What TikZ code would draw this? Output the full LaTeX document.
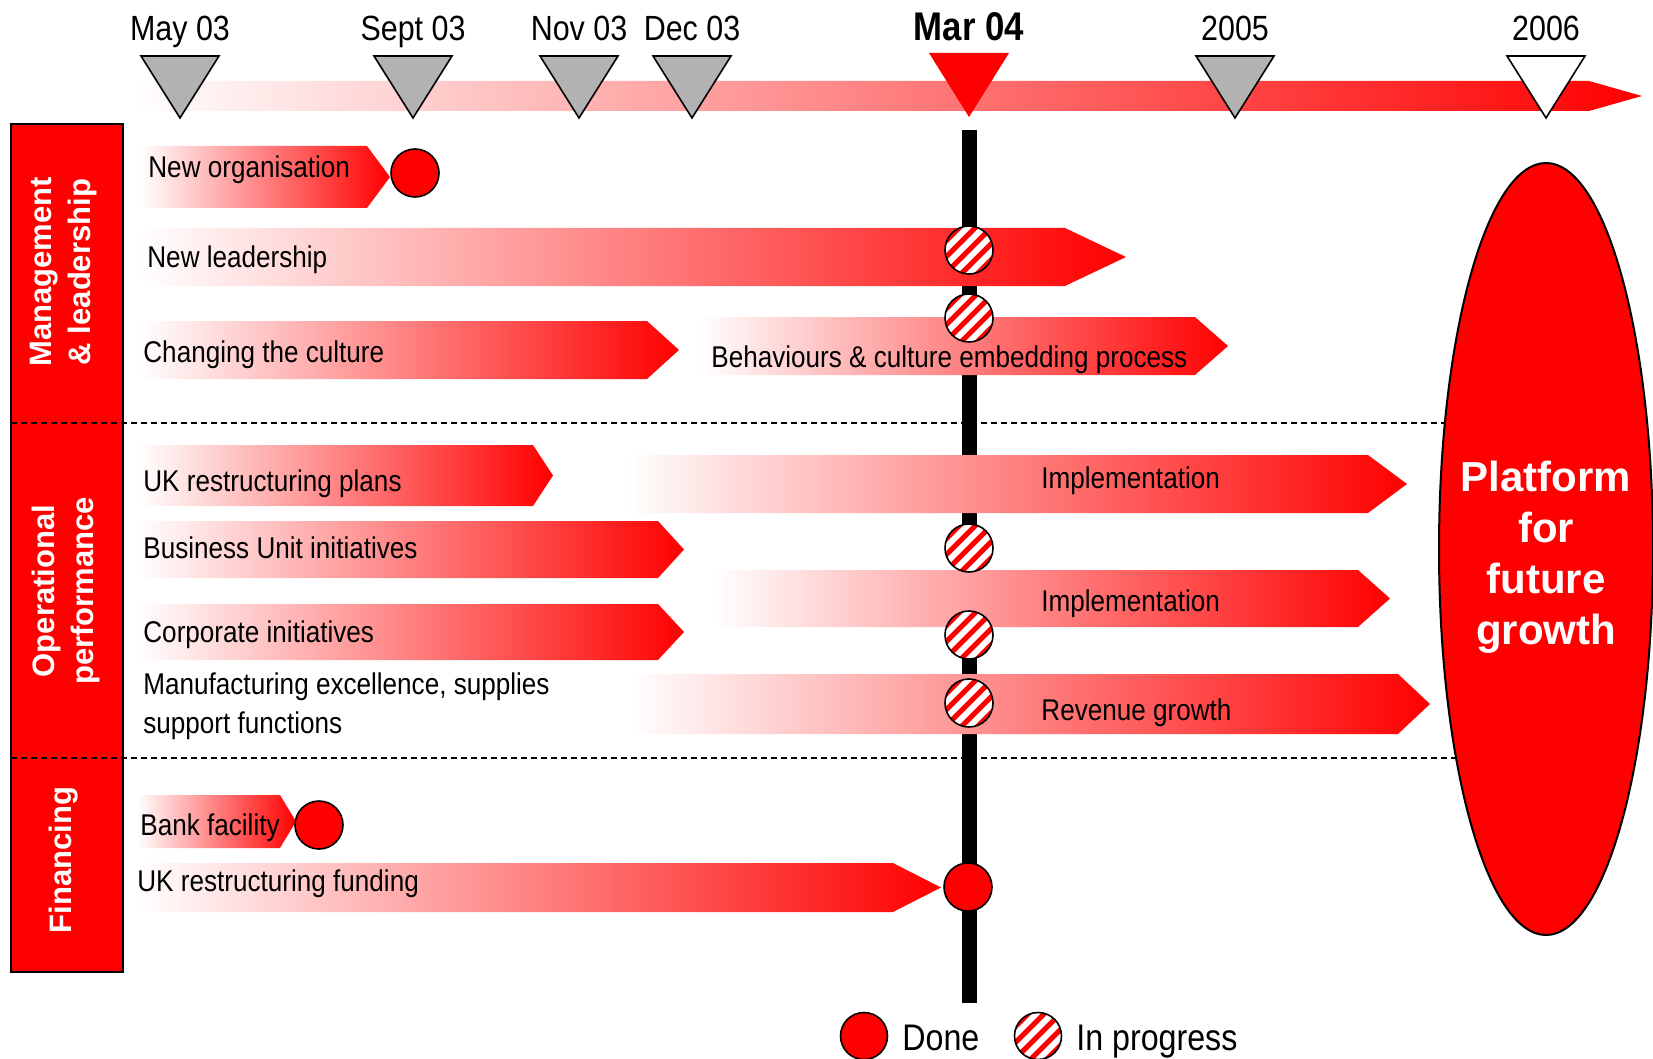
\documentclass[tikz,border=0pt]{standalone}
\usepackage{fontspec}
\setmainfont{Liberation Sans}[FakeStretch=0.87]
\newfontfamily\catfont{Liberation Sans}
\definecolor{tgray}{HTML}{B2B2B2}
\newcommand\barr[5]{\shade[left color=white,right color=red] (#1,#2) -- (#4,#2) -- (#5,{(#2+#3)/2}) -- (#4,#3) -- (#1,#3) -- cycle;}
\newcommand\mtri[2]{\filldraw[fill=#1,draw=black,line width=0.8pt,line join=miter] ({#2-39},56) -- ({#2+39},56) -- (#2,118) -- cycle;}
\begin{document}
\begin{tikzpicture}[x=0.5pt,y=-0.5pt,
 txt/.style={anchor=base west,inner sep=0pt,font=\fontsize{15}{18}\selectfont},
 tl/.style={anchor=base,inner sep=0pt,font=\fontsize{17.5}{20}\selectfont},
 cat/.style={rotate=90,align=center,text=white,inner sep=0pt,font=\catfont\bfseries\fontsize{15.5}{19.5}\selectfont},
 done/.style={circle,draw=black,fill=red,line width=0.8pt,minimum size=24pt,inner sep=0pt},
 prog/.style={circle,draw=black,fill=white,line width=0.8pt,minimum size=24pt,inner sep=0pt,
   path picture={\foreach \k in {-3,...,3}{\draw[red,line width=2.6pt] ([shift={(\k*16-30,30)}]path picture bounding box.center) -- ([shift={(\k*16+30,-30)}]path picture bounding box.center);}}},
 sep/.style={line width=0.7pt,dash pattern=on 3pt off 2pt},
 leg/.style={anchor=base west,inner sep=0pt,font=\fontsize{18.5}{22}\selectfont}
]
\useasboundingbox (0,0) rectangle (1653,1059);

% timeline band
\barr{133}{81}{111}{1589}{1642}
\mtri{tgray}{180}
\mtri{tgray}{413}
\mtri{tgray}{579}
\mtri{tgray}{692}
\mtri{tgray}{1235}
\mtri{white}{1546}
\fill[red] (929,53) -- (1009,53) -- (969,117) -- cycle;

\node[tl] (may) at (180,41) {May 03};
\node[tl] (sep) at (413,41) {Sept 03};
\node[tl] (nov) at (579,41) {Nov 03};
\node[tl] (dec) at (692,41) {Dec 03};
\node[tl,font=\bfseries\fontsize{20}{22}\selectfont] (mar) at (969,41) {Mar 04};
\node[tl] (y05) at (1235,41) {2005};
\node[tl] (y06) at (1546,41) {2006};

% Mar 04 line
\draw[line width=7.5pt] (969,130) -- (969,1003);

% arrows
\barr{140}{146}{208}{367}{390}
\barr{140}{228}{286}{1065}{1126}
\barr{140}{321}{379}{647}{679}
\barr{700}{317}{375}{1195}{1228}
\barr{138}{445}{506}{533}{553}
\barr{625}{455}{513}{1368}{1407}
\barr{138}{521}{578}{658}{684}
\barr{714}{570}{627}{1358}{1390}
\barr{138}{604}{660}{658}{684}
\barr{630}{674}{734}{1398}{1430}
\barr{137}{795}{848}{280}{296}
\barr{137}{863}{912}{893}{941}

% texts
\node[txt] (t1) at (148,178) {New organisation};
\node[txt] (t2) at (147,267) {New leadership};
\node[txt] (t3) at (143,362) {Changing the culture};
\node[txt] (t4) at (711,367) {Behaviours \& culture embedding process};
\node[txt] (t5) at (143,491) {UK restructuring plans};
\node[txt] (t6) at (1041,488) {Implementation};
\node[txt] (t7) at (143,558) {Business Unit initiatives};
\node[txt] (t8) at (1041,611) {Implementation};
\node[txt] (t9) at (143,642) {Corporate initiatives};
\node[txt] (t10) at (143,694) {Manufacturing excellence, supplies};
\node[txt] (t11) at (143,733) {support functions};
\node[txt] (t12) at (1041,720) {Revenue growth};
\node[txt] (t13) at (140,835) {Bank facility};
\node[txt] (t14) at (137,891) {UK restructuring funding};

% status circles
\node[done] (c1) at (415,173) {};
\node[prog] (c2) at (969,250) {};
\node[prog] (c3) at (969,318) {};
\node[prog] (c4) at (969,548) {};
\node[prog] (c5) at (969,635) {};
\node[prog] (c6) at (969,703) {};
\node[done] (c7) at (319,825) {};
\node[done] (c8) at (968,887) {};

% category column
\draw[fill=red,line width=0.8pt] (11,124) rectangle (123,972);
\node[cat] (cat1) at (64,272) {Management\\\& leadership};
\node[cat] (cat2) at (66,591) {Operational\\performance};
\node[cat] (cat3) at (64,860) {Financing};
\draw[sep] (11,423) -- (1500,423);
\draw[sep] (11,758) -- (1500,758);

% goal ellipse
\filldraw[fill=red,draw=black,line width=1pt] (1546,549) ellipse [x radius=107, y radius=386];
\node[align=center,text=white,inner sep=0pt,font=\catfont\bfseries\fontsize{21}{25.5}\selectfont] (goal) at (1546,557)
  {Platform\\for\\future\\growth};

% legend
\node[done,minimum size=23.5pt] (ldone) at (864,1036) {};
\node[leg] (ldonet) at (902,1050) {Done};
\node[prog,minimum size=23.5pt] (lprog) at (1038,1036) {};
\node[leg] (lprogt) at (1076,1050) {In progress};
\end{tikzpicture}
\end{document}
